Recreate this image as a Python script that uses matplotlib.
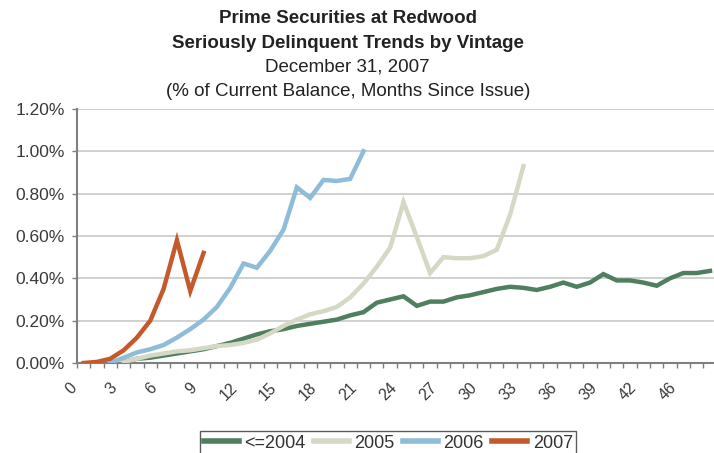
import numpy as np
import matplotlib
matplotlib.use("Agg")
import matplotlib.pyplot as plt
from matplotlib.transforms import ScaledTranslation

plt.rcParams["font.family"] = ["Liberation Sans", "DejaVu Sans"]

# months since issue (category axis; 44 is not in the source table)
months = [0, 1, 2, 3, 4, 5, 6, 7, 8, 9, 10, 11, 12, 13, 14, 15, 16, 17, 18, 19,
          20, 21, 22, 23, 24, 25, 26, 27, 28, 29, 30, 31, 32, 33, 34, 35, 36, 37,
          38, 39, 40, 41, 42, 43, 45, 46, 47, 48]

# seriously delinquent, % of current balance (None = no data)
v2004 = [None, None, None, 0.005, 0.02, 0.025, 0.035, 0.045, 0.055, 0.065,
         0.08, 0.095, 0.115, 0.135, 0.15, 0.16, 0.175, 0.185, 0.195, 0.205,
         0.225, 0.24, 0.285, 0.30, 0.315, 0.27, 0.29, 0.29, 0.31, 0.32,
         0.335, 0.35, 0.36, 0.355, 0.345, 0.36, 0.38, 0.36, 0.38, 0.42,
         0.39, 0.39, 0.38, 0.365, 0.40, 0.425, 0.425, 0.435]
v2005 = [None, None, None, 0.005, 0.02, 0.035, 0.045, 0.055, 0.06, 0.07,
         0.08, 0.085, 0.095, 0.11, 0.14, 0.175, 0.205, 0.23, 0.245, 0.265,
         0.31, 0.375, 0.455, 0.545, 0.76, 0.595, 0.425, 0.50, 0.495, 0.495,
         0.505, 0.535, 0.70, 0.93]
v2006 = [None, None, 0.00, 0.025, 0.05, 0.065, 0.085, 0.12, 0.16, 0.205,
         0.265, 0.355, 0.47, 0.45, 0.53, 0.63, 0.83, 0.78, 0.865, 0.86,
         0.87, 1.00]
v2007 = [0.00, 0.005, 0.02, 0.06, 0.12, 0.20, 0.35, 0.58, 0.34, 0.52]

series = [("<=2004", v2004, "#4f7f5f"),
          ("2005", v2005, "#d5d8c5"),
          ("2006", v2006, "#8fbcd8"),
          ("2007", v2007, "#c45a2c")]

yticks = [0.0, 0.2, 0.4, 0.6, 0.8, 1.0, 1.2]

fig = plt.figure(figsize=(7.14, 4.53), dpi=100)
ax = fig.add_axes([0.1078, 0.1987, 0.8922, 0.5607])

for name, vals, color in series:
    y = np.array(vals, dtype=float)
    ax.plot(np.arange(len(y)), y, color=color, lw=3.2, label=name,
            solid_joinstyle="miter", zorder=3)

ax.set_xlim(-0.5, 47.3)
ax.set_ylim(0, 1.2)
ax.set_yticks(yticks, [f"{v:.2f}%" for v in yticks])
ax.yaxis.grid(True, color="#c8c8c8", lw=1.2)
ax.set_axisbelow(True)

pos = np.arange(len(months))
ax.set_xticks(pos[::3], [str(m) for m in months[::3]], rotation=45,
              ha="right", va="center", rotation_mode="anchor")
ax.set_xticks(pos - 0.5, minor=True)
ax.tick_params(axis="x", which="major", length=0, pad=16, labelsize=11.5)
ax.tick_params(axis="x", which="minor", length=3.6, width=1, color="#7f7f7f")
ax.tick_params(axis="y", length=3.6, width=1, color="#7f7f7f", pad=5,
               labelsize=12.5)
ax.tick_params(labelcolor="#3a3a3a")
shift = ScaledTranslation(-9 / 100, 0, fig.dpi_scale_trans)
for lab in ax.get_xticklabels():
    lab.set_transform(lab.get_transform() + shift)

for s in ["top", "right"]:
    ax.spines[s].set_visible(False)
for s in ["left", "bottom"]:
    ax.spines[s].set_color("#7f7f7f")
    ax.spines[s].set_linewidth(1.5)

title_lines = [("Prime Securities at Redwood", "bold", 0.960),
               ("Seriously Delinquent Trends by Vintage", "bold", 0.905),
               ("December 31, 2007", "normal", 0.852),
               ("(% of Current Balance, Months Since Issue)", "normal", 0.799)]
for txt, wt, yy in title_lines:
    fig.text(0.487, yy, txt, ha="center", va="center", fontsize=13.5,
             fontweight=wt, color="#222222")

leg = fig.legend(loc="upper center", bbox_to_anchor=(0.544, 1 - 431 / 453),
                 ncol=4, fontsize=13, frameon=True, fancybox=False,
                 edgecolor="#333333", borderpad=0.2, handlelength=1.95,
                 handletextpad=0.3, columnspacing=0.45, borderaxespad=0)
leg.get_frame().set_linewidth(1)
for ln in leg.get_lines():
    ln.set_linewidth(4)
for t in leg.get_texts():
    t.set_color("#333333")

fig.savefig("out.png", dpi=100)
